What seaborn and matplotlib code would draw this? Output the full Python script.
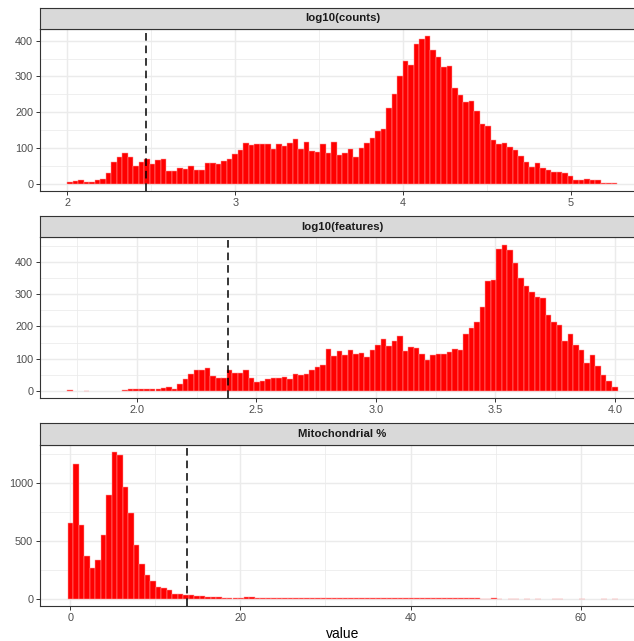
import numpy as np
import pandas as pd
import matplotlib
matplotlib.use("Agg")
import matplotlib.pyplot as plt
from matplotlib.ticker import MultipleLocator, FormatStrFormatter
import seaborn as sns

# ---- histogram bin counts (100 bins per metric) ----
facet_labels = ["log10(counts)", "log10(features)", "Mitochondrial %"]

counts_bins = [
    5, 7, 10, 4, 4, 11, 14, 31, 61, 74,
    86, 75, 49, 61, 70, 54, 67, 70, 36, 34,
    43, 40, 48, 39, 39, 59, 57, 54, 64, 70,
    84, 93, 114, 109, 110, 110, 110, 98, 110, 106,
    115, 124, 98, 116, 90, 88, 112, 85, 116, 81,
    87, 96, 74, 100, 115, 129, 148, 152, 212, 251,
    302, 344, 331, 391, 406, 412, 375, 354, 326, 328,
    267, 248, 229, 230, 203, 166, 161, 122, 110, 115,
    102, 94, 76, 60, 46, 57, 43, 39, 33, 32,
    29, 22, 11, 10, 14, 10, 11, 1, 1, 1,
]
counts_range = (2.018, 5.26)          # first / last bin centre
counts_cutoff = 2.467

features_bins = [
    2, 0, 0, 1, 0, 0, 0, 0, 0, 0,
    2, 5, 7, 7, 7, 6, 6, 8, 11, 7,
    22, 36, 53, 66, 65, 72, 47, 41, 41, 65,
    56, 56, 64, 41, 28, 32, 38, 40, 41, 42,
    36, 53, 49, 54, 65, 73, 80, 130, 107, 123,
    111, 128, 113, 118, 105, 127, 143, 160, 138, 155,
    171, 124, 137, 132, 115, 96, 112, 115, 115, 121,
    130, 128, 176, 195, 212, 259, 339, 345, 440, 453,
    436, 396, 350, 324, 305, 291, 289, 236, 213, 205,
    155, 176, 141, 127, 86, 112, 76, 50, 32, 12,
]
features_range = (1.7215, 3.9995)
features_cutoff = 2.380

mito_bins = [
    654, 1164, 634, 372, 262, 334, 550, 899, 1268, 1245,
    968, 740, 461, 302, 205, 153, 101, 95, 72, 43,
    40, 35, 32, 25, 22, 18, 15, 12, 10, 9,
    8, 8, 12, 14, 9, 7, 7, 6, 6, 7,
    5, 6, 8, 5, 6, 5, 7, 5, 6, 5,
    4, 5, 4, 8, 4, 3, 4, 3, 3, 3,
    2, 2, 3, 2, 3, 2, 2, 3, 2, 2,
    3, 2, 2, 2, 3, 1, 1, 2, 1, 0,
    1, 1, 0, 1, 0, 1, 0, 0, 1, 1,
    0, 0, 0, 1, 0, 0, 0, 1, 0, 1,
]
mito_range = (0.0, 64.0)
mito_cutoff = 13.74

x_major = [1.0, 0.5, 20.0]
x_fmt = ["%d", "%.1f", "%d"]
y_major = [100, 100, 500]

sns.set_style("white")
plt.rcParams["font.family"] = ["Liberation Sans", "DejaVu Sans"]

W, H = 634, 641
fig = plt.figure(figsize=(W / 100, H / 100), dpi=100)

# panel geometry in pixels: (strip_top, panel_top, panel_bottom)
rows = [(7.5, 29.0, 191.0), (215.7, 237.3, 398.3), (423.3, 444.7, 606.0)]
left_px, right_px = 40.0, 645.0

dark = "#333333"
grid_c = "#ebebeb"

panels = [
    (counts_bins, counts_range, counts_cutoff),
    (features_bins, features_range, features_cutoff),
    (mito_bins, mito_range, mito_cutoff),
]

for i, ((bins_counts, (c0, c1), cutoff), label) in enumerate(zip(panels, facet_labels)):
    s_top, p_top, p_bot = rows[i]
    ax = fig.add_axes([left_px / W, 1 - p_bot / H,
                       (right_px - left_px) / W, (p_bot - p_top) / H])
    sax = fig.add_axes([left_px / W, 1 - p_top / H,
                        (right_px - left_px) / W, (p_top - s_top) / H])

    n = len(bins_counts)
    centres = np.linspace(c0, c1, n)
    width = (c1 - c0) / (n - 1)
    edges = np.concatenate([centres - width / 2, [centres[-1] + width / 2]])
    df = pd.DataFrame({"value": centres, "n": np.asarray(bins_counts, float)})

    sns.histplot(data=df, x="value", weights="n", bins=edges.tolist(), ax=ax,
                 color="red", alpha=1.0, edgecolor="#ff9a9a",
                 linewidth=0.35, zorder=2)
    # empty bins carry no visible outline
    for patch in ax.patches:
        if patch.get_height() <= 0:
            patch.set_linewidth(0)
            patch.set_edgecolor("none")
    ax.axvline(cutoff, color="black", linestyle=(0, (5, 3.2)),
               linewidth=1.1, zorder=3)

    lo, hi = edges[0], edges[-1]
    r = hi - lo
    ax.set_xlim(lo - 0.05 * r, hi + 0.05 * r)
    ymax = max(bins_counts)
    ax.set_ylim(-0.05 * ymax, ymax * 1.05)

    ax.xaxis.set_major_locator(MultipleLocator(x_major[i]))
    ax.xaxis.set_minor_locator(MultipleLocator(x_major[i] / 2))
    ax.xaxis.set_major_formatter(FormatStrFormatter(x_fmt[i]))
    ax.yaxis.set_major_locator(MultipleLocator(y_major[i]))
    ax.yaxis.set_minor_locator(MultipleLocator(y_major[i] / 2))

    ax.set_axisbelow(True)
    ax.grid(True, which="major", color=grid_c, linewidth=1.05)
    ax.grid(True, which="minor", color=grid_c, linewidth=0.55)
    ax.set_facecolor("white")
    for sp in ax.spines.values():
        sp.set_color(dark)
        sp.set_linewidth(0.8)
    ax.tick_params(axis="both", which="major", length=2.75, width=0.7,
                   color=dark, labelcolor="#4d4d4d", labelsize=7.8, pad=2.2,
                   bottom=True, left=True)
    ax.tick_params(axis="both", which="minor", length=0)
    ax.set_ylabel("")
    ax.set_xlabel("")

    sax.set_facecolor("#d9d9d9")
    sax.set_xticks([])
    sax.set_yticks([])
    for sp in sax.spines.values():
        sp.set_color(dark)
        sp.set_linewidth(0.8)
    sax.text(0.5, 0.5, label, transform=sax.transAxes, ha="center",
             va="center", fontsize=8.2, fontweight="bold", color="#1a1a1a")

    if i == 2:
        ax.set_xlabel("value", fontsize=10, color="black", labelpad=3)

fig.savefig("out.png", dpi=100, facecolor="white")
